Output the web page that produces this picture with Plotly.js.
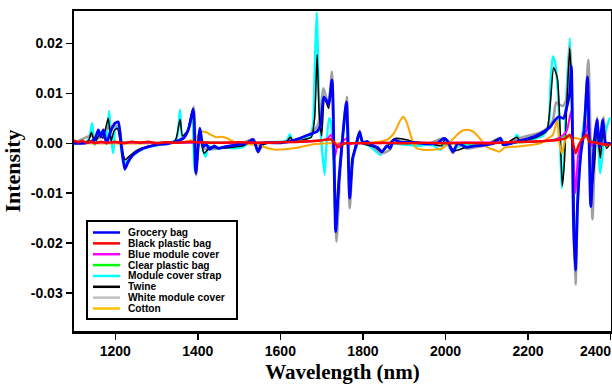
<!DOCTYPE html>
<html><head><meta charset="utf-8">
<script src="https://cdn.plot.ly/plotly-3.0.1.min.js"></script>
<style>html,body{margin:0;padding:0;background:#fff;}#chart{width:612px;height:386px;}</style>
</head><body><div id="chart"></div>
<script>
// ---- Data ----
const groceryX = [1100,1130,1150,1159,1165,1171,1179,1187,1199,1207,1215,1223,1231,1243,1268,1300,1330,1365,1377,1389,1395,1405,1413,1420,1429,1440,1450,1470,1500,1518,1534,1546,1555,1600,1633,1665,1689,1697,1705,1710,1717,1725,1730,1734,1742,1752,1760,1768,1775,1784,1792,1800,1810,1820,1835,1846,1858,1866,1875,1890,1920,1955,1980,1996,2005,2018,2030,2051,2070,2100,2117,2133,2140,2160,2189,2214,2238,2254,2266,2274,2286,2294,2301,2305,2310,2315,2320,2328,2336,2344,2352,2360,2367,2373,2381,2388,2400];
const groceryY = [0.0000,0.0001,0.0008,0.0027,0.0013,0.0027,0.0000,0.0020,0.0040,0.0043,-0.0007,-0.0052,-0.0037,-0.0023,-0.0010,-0.0003,0.0000,0.0010,0.0027,0.0068,-0.0060,0.0030,-0.0007,-0.0002,-0.0012,-0.0005,-0.0010,-0.0006,-0.0002,0.0000,0.0008,-0.0017,0.0000,0.0001,0.0006,0.0016,0.0024,0.0035,0.0093,0.0088,0.0078,0.0127,-0.0023,-0.0177,-0.0070,0.0023,0.0083,-0.0110,-0.0030,-0.0003,0.0023,0.0000,0.0004,-0.0003,-0.0008,-0.0017,-0.0005,-0.0010,0.0007,0.0002,0.0002,-0.0001,0.0000,0.0010,0.0005,-0.0017,0.0000,-0.0008,-0.0005,-0.0003,0.0000,0.0010,-0.0003,0.0000,0.0007,0.0013,0.0023,0.0033,0.0047,0.0053,0.0050,0.0073,0.0100,0.0154,-0.0154,-0.0254,-0.0120,-0.0020,0.0027,0.0133,-0.0127,0.0000,0.0047,-0.0007,0.0047,0.0000,0.0000];

const blackBagX = [1100,1110,1120,1130,1140,1150,1165,1180,1200,1220,1240,1260,1280,1300,1320,1350,1380,1400,1450,1500,1550,1600,1650,1690,1710,1722,1730,1740,1750,1760,1800,1850,1900,1950,2000,2050,2100,2150,2200,2250,2275,2290,2301,2307,2315,2322,2333,2343,2348,2360,2380,2400];
const blackBagY = [0.0006,0.0002,0.0005,0.0001,0.0004,0.0000,0.0003,0.0001,0.0003,0.0000,0.0003,0.0001,0.0003,0.0000,0.0002,0.0001,0.0003,0.0002,0.0001,0.0002,0.0001,0.0002,0.0003,0.0005,0.0007,0.0008,0.0002,-0.0008,-0.0002,0.0000,0.0000,0.0001,0.0000,0.0001,0.0000,0.0001,0.0000,0.0002,0.0003,0.0005,0.0007,0.0010,0.0017,0.0008,-0.0020,-0.0005,0.0010,0.0017,0.0003,0.0002,-0.0002,-0.0003];

const blueCoverX = [1100,1300,1500,1650,1700,1715,1722,1727,1732,1738,1750,1760,1766,1775,1850,2000,2150,2230,2266,2286,2294,2304,2309,2315,2322,2333,2342,2346,2350,2354,2365,2400];
const blueCoverY = [0.0002,0.0001,0.0001,0.0003,0.0006,0.0010,0.0017,0.0005,-0.0027,-0.0005,0.0003,0.0010,-0.0003,0.0000,0.0000,0.0001,0.0002,0.0004,0.0007,0.0017,0.0025,0.0063,0.0000,-0.0100,-0.0020,0.0007,0.0027,0.0053,0.0010,-0.0005,0.0000,0.0000];

const clearBagX = [1100,1200,1300,1400,1500,1600,1700,1722,1740,1760,1900,2100,2250,2301,2315,2333,2343,2360,2400];
const clearBagY = [0.0003,0.0002,0.0001,0.0002,0.0001,0.0002,0.0006,0.0007,-0.0006,0.0000,0.0000,0.0000,0.0005,0.0015,-0.0018,0.0010,0.0015,0.0002,-0.0002];

const strapX = [1100,1130,1138,1144,1150,1158,1165,1172,1178,1185,1190,1195,1201,1208,1214,1221,1230,1245,1270,1300,1330,1348,1357,1362,1372,1382,1387,1392,1400,1406,1412,1419,1426,1440,1460,1490,1510,1535,1546,1560,1600,1615,1623,1630,1660,1671,1679,1683,1688,1694,1700,1707,1711,1718,1722,1728,1734,1740,1748,1757,1762,1768,1776,1785,1792,1800,1815,1830,1842,1855,1870,1890,1910,1930,1950,1970,1988,2000,2018,2040,2070,2100,2133,2145,2165,2173,2182,2210,2235,2249,2254,2260,2266,2274,2279,2282,2287,2294,2301,2306,2310,2316,2324,2333,2342,2348,2354,2362,2367,2375,2383,2391,2398,2400];
const strapY = [0.0000,0.0003,0.0015,0.0040,-0.0003,0.0015,0.0023,0.0020,0.0005,0.0065,0.0010,-0.0020,0.0033,0.0030,-0.0008,-0.0040,-0.0035,-0.0022,-0.0010,-0.0004,0.0000,0.0008,0.0067,0.0013,0.0020,0.0040,0.0060,-0.0053,-0.0010,0.0010,-0.0013,-0.0027,-0.0005,-0.0012,-0.0008,-0.0010,-0.0007,0.0006,-0.0015,0.0001,0.0003,0.0005,0.0018,0.0005,0.0008,0.0013,0.0037,0.0143,0.0262,0.0077,-0.0003,-0.0063,-0.0010,0.0050,0.0045,-0.0023,-0.0150,-0.0097,-0.0020,0.0050,0.0055,-0.0097,-0.0030,-0.0005,0.0020,0.0000,-0.0005,-0.0015,-0.0023,-0.0008,0.0000,-0.0002,-0.0003,-0.0006,-0.0003,-0.0004,-0.0013,0.0002,-0.0012,-0.0003,-0.0005,-0.0002,0.0010,0.0000,0.0005,0.0017,0.0005,0.0008,0.0015,0.0030,0.0113,0.0174,0.0160,0.0080,-0.0033,-0.0090,-0.0030,0.0113,0.0210,0.0113,-0.0120,-0.0200,-0.0033,0.0027,0.0080,0.0010,-0.0067,0.0010,0.0030,-0.0060,0.0000,0.0033,0.0050,0.0048];

const twineX = [1100,1135,1142,1150,1163,1170,1178,1183,1190,1197,1205,1214,1224,1235,1250,1280,1320,1345,1357,1363,1375,1388,1396,1405,1415,1430,1460,1490,1510,1535,1545,1560,1600,1615,1624,1632,1660,1675,1683,1689,1694,1700,1707,1717,1725,1729,1735,1745,1760,1768,1776,1790,1800,1830,1846,1870,1880,1900,1930,1960,1990,2000,2020,2050,2100,2133,2140,2173,2180,2220,2245,2254,2262,2268,2272,2278,2283,2288,2294,2301,2306,2311,2315,2321,2328,2336,2344,2352,2356,2362,2367,2375,2383,2390,2400];
const twineY = [0.0000,0.0005,0.0022,0.0002,0.0018,0.0010,0.0035,0.0050,0.0005,0.0025,0.0030,-0.0005,-0.0033,-0.0025,-0.0015,-0.0006,0.0000,0.0005,0.0048,0.0015,0.0025,0.0070,-0.0060,0.0020,-0.0020,-0.0008,-0.0010,-0.0007,-0.0005,0.0005,-0.0015,-0.0002,0.0002,0.0003,0.0012,0.0003,0.0008,0.0012,0.0050,0.0178,0.0060,0.0015,0.0090,0.0070,0.0120,-0.0030,-0.0170,-0.0050,0.0080,-0.0110,-0.0030,0.0020,0.0000,-0.0008,-0.0017,0.0005,0.0010,0.0008,0.0002,0.0000,-0.0005,0.0010,-0.0015,-0.0008,-0.0003,0.0010,-0.0003,0.0012,0.0005,0.0012,0.0025,0.0080,0.0152,0.0140,0.0125,0.0020,-0.0085,-0.0040,0.0080,0.0190,0.0100,-0.0120,-0.0240,-0.0100,-0.0020,0.0030,0.0130,-0.0100,-0.0080,-0.0030,0.0040,-0.0030,0.0040,-0.0010,0.0000];

const whiteCoverX = [1100,1140,1160,1180,1200,1208,1216,1224,1233,1245,1270,1300,1340,1365,1378,1390,1396,1405,1413,1430,1460,1500,1534,1546,1560,1600,1640,1670,1690,1697,1704,1712,1717,1725,1730,1736,1744,1752,1761,1768,1776,1785,1792,1800,1820,1846,1866,1875,1900,1960,1996,2018,2030,2050,2100,2133,2140,2170,2200,2230,2250,2260,2268,2275,2285,2294,2301,2306,2310,2315,2320,2328,2336,2346,2356,2362,2367,2374,2383,2390,2400];
const whiteCoverY = [0.0000,0.0015,0.0010,0.0030,0.0035,0.0035,-0.0008,-0.0050,-0.0035,-0.0022,-0.0010,-0.0003,0.0002,0.0012,0.0030,0.0073,-0.0064,0.0030,-0.0010,-0.0012,-0.0008,-0.0003,0.0008,-0.0018,0.0000,0.0002,0.0008,0.0018,0.0035,0.0060,0.0110,0.0090,0.0085,0.0143,-0.0020,-0.0197,-0.0070,0.0025,0.0093,-0.0130,-0.0030,-0.0003,0.0025,0.0000,-0.0003,-0.0020,-0.0012,0.0008,0.0003,0.0000,0.0010,-0.0020,0.0000,-0.0010,-0.0003,0.0011,-0.0003,0.0008,0.0015,0.0022,0.0033,0.0045,0.0082,0.0078,0.0075,0.0090,0.0194,0.0120,-0.0150,-0.0283,-0.0130,-0.0020,0.0030,0.0167,-0.0152,-0.0010,0.0052,-0.0020,0.0052,0.0000,0.0000];

const cottonX = [1100,1300,1370,1395,1407,1420,1432,1445,1456,1468,1480,1495,1520,1550,1570,1590,1610,1640,1680,1720,1760,1800,1840,1860,1875,1890,1898,1906,1918,1930,1945,1965,1990,2005,2020,2036,2051,2068,2083,2101,2117,2130,2145,2170,2200,2230,2249,2260,2266,2271,2276,2282,2292,2306,2330,2340,2360,2380,2400];
const cottonY = [0.0000,0.0000,0.0003,0.0010,0.0023,0.0022,0.0017,0.0012,0.0013,0.0011,0.0006,0.0000,-0.0002,-0.0004,-0.0010,-0.0013,-0.0012,-0.0009,-0.0002,0.0000,0.0000,0.0001,0.0003,0.0008,0.0020,0.0045,0.0053,0.0042,0.0010,-0.0010,-0.0013,-0.0013,-0.0011,-0.0002,0.0010,0.0023,0.0027,0.0023,0.0010,-0.0008,-0.0013,-0.0017,-0.0008,-0.0007,-0.0004,0.0000,0.0010,0.0017,0.0033,0.0045,0.0000,-0.0020,0.0010,0.0012,0.0008,0.0012,0.0000,-0.0003,-0.0003];

const seriesNames = ['Grocery bag','Black plastic bag','Blue module cover','Clear plastic bag','Module cover strap','Twine','White module cover','Cotton'];
const seriesColors = ['#0000ff','#ff0000','#ff00ff','#00ff00','#00ffff','#000000','#a0a0a0','#ffa500'];
const legendColors = ['#0000ff','#ff0000','#ff00ff','#00ff00','#00ffff','#000000','#c0c0c0','#ffc000'];
const seriesX = [groceryX, blackBagX, blueCoverX, clearBagX, strapX, twineX, whiteCoverX, cottonX];
const seriesY = [groceryY, blackBagY, blueCoverY, clearBagY, strapY, twineY, whiteCoverY, cottonY];
const lineWidths = [2.8, 2.4, 2, 2, 2.4, 1.5, 2.6, 2];
const drawOrder = [4, 6, 5, 7, 3, 2, 0, 1];

const xTickVals = [1200,1400,1600,1800,2000,2200,2400];
const xTickText = ['1200','1400','1600','1800','2000','2200',''];
const xLastTickLabel = '2400';
const yTickVals = [-0.03,-0.02,-0.01,0.00,0.01,0.02];
const yTickText = ['-0.03','-0.02','-0.01','0.00','0.01','0.02'];

// ---- Traces ----
const traces = drawOrder.map(i => ({
  type: 'scatter', mode: 'lines', name: seriesNames[i],
  x: seriesX[i], y: seriesY[i],
  line: {color: seriesColors[i], width: lineWidths[i], shape: 'spline', smoothing: 0.6},
  showlegend: false, hoverinfo: 'skip'
}));

// ---- Custom compact legend (shapes + annotations in paper coords) ----
const L = {left: 74, top: 11, w: 537, h: 320};
const px2x = p => (p - L.left) / L.w;
const py2y = p => (L.top + L.h - p) / L.h;
const shapes = [{
  type: 'rect', xref: 'paper', yref: 'paper',
  x0: px2x(87), x1: px2x(237), y0: py2y(319), y1: py2y(221),
  line: {color: '#000', width: 2}, fillcolor: '#fff', layer: 'above'
}];
const annotations = [];
seriesNames.forEach((nm, i) => {
  const yy = py2y(232.5 + i * 10.86);
  shapes.push({type: 'line', xref: 'paper', yref: 'paper', x0: px2x(93), x1: px2x(120), y0: yy, y1: yy,
    line: {color: legendColors[i], width: 2.5}, layer: 'above'});
  annotations.push({xref: 'paper', yref: 'paper', x: px2x(127), y: yy, xanchor: 'left', yanchor: 'middle',
    text: '<b>' + nm + '</b>', showarrow: false, borderpad: 0,
    font: {family: 'Liberation Sans, Arial, sans-serif', size: 10.2, color: '#000'}});
});
// last x tick label, kept inside the page like in the reference
annotations.push({xref: 'paper', yref: 'paper', x: px2x(611.5), y: py2y(351), xanchor: 'right', yanchor: 'middle',
  text: xLastTickLabel, showarrow: false, borderpad: 0,
  font: {family: 'Liberation Sans, Arial, sans-serif', size: 14, color: '#000', weight: 'bold'}});

const layout = {
  width: 612, height: 386,
  margin: {l: 74, r: 1, t: 11, b: 55, pad: 0},
  paper_bgcolor: '#fff', plot_bgcolor: '#fff',
  showlegend: false,
  xaxis: {
    range: [1100, 2401], tickvals: xTickVals, ticktext: xTickText, ticks: 'outside', ticklen: 6, tickwidth: 1.5, tickcolor: '#000',
    showline: true, linecolor: '#000', linewidth: 2.5, mirror: true, showgrid: false, zeroline: false,
    tickfont: {family: 'Liberation Sans, Arial, sans-serif', size: 14, color: '#000', weight: 'bold'},
    title: {text: 'Wavelength (nm)', standoff: 6,
      font: {family: 'Liberation Serif, Times New Roman, serif', size: 21, color: '#000', weight: 'bold'}}
  },
  yaxis: {
    range: [-0.0376, 0.0265], tickvals: yTickVals, ticktext: yTickText, ticks: 'outside', ticklen: 6, tickwidth: 1.5, tickcolor: '#000',
    showline: true, linecolor: '#000', linewidth: 2.5, mirror: true, showgrid: false, zeroline: false,
    tickfont: {family: 'Liberation Sans, Arial, sans-serif', size: 14, color: '#000', weight: 'bold'},
    title: {text: 'Intensity', standoff: 8,
      font: {family: 'Liberation Serif, Times New Roman, serif', size: 22, color: '#000', weight: 'bold'}}
  },
  shapes: shapes, annotations: annotations
};

Plotly.newPlot('chart', traces, layout, {displayModeBar: false, staticPlot: true});
</script>
</body></html>
